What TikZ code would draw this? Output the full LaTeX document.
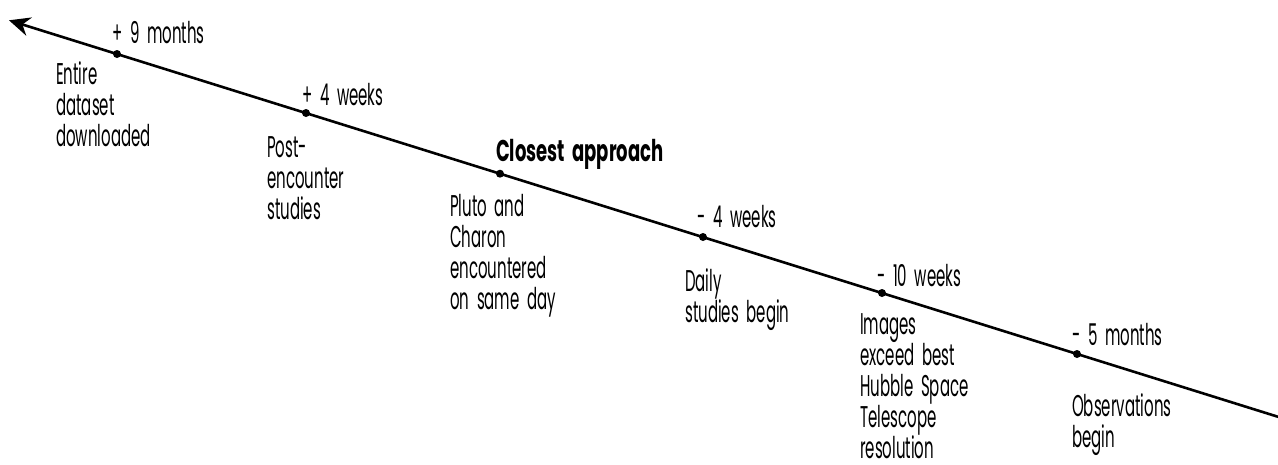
\documentclass[tikz,border=0pt]{standalone}
\usepackage{fontspec}
\setmainfont[FakeStretch=0.5, WordSpace=1.9, BoldFeatures={FakeStretch=0.6, WordSpace=1.9}]{Poppins}
\usetikzlibrary{arrows.meta}
\tikzset{
  lbl/.style={anchor=north west, inner sep=0pt, align=left, font=\fontsize{30}{31}\selectfont},
  head/.style={lbl, font=\bfseries\fontsize{30}{31}\selectfont},
  dot/.style={circle, fill=black, inner sep=0pt, minimum size=8pt},
  axis/.style={line width=2.6pt, -{Stealth[length=21pt,width=19pt,inset=7pt]}}
}
\begin{document}
\begin{tikzpicture}[x=1pt,y=-1pt]
\useasboundingbox (0,0) rectangle (1278,464);
\coordinate (tip) at (9,20.3);
\coordinate (end) at (1280,417.4);
\draw[axis] (end) -- (tip);
\node[dot] (d1) at (117,54) {};
\node[dot] (d2) at (306,113) {};
\node[dot] (d3) at (500,173.7) {};
\node[dot] (d4) at (703,237) {};
\node[dot] (d5) at (882,293) {};
\node[dot] (d6) at (1077,354) {};
% labels above
\node[lbl] (t1) at (112,21) {+ 9 months};
\node[lbl] (t2) at (302,83) {+ 4 weeks};
\node[head] (t3) at (496,139) {Closest approach};
\node[lbl] (t4) at (697,205) {- 4 weeks};
\node[lbl] (t5) at (877,264) {- 10 weeks};
\node[lbl] (t6) at (1072,323) {- 5 months};
% labels below
\node[lbl] (b1) at (56,61) {Entire\\dataset\\downloaded};
\node[lbl] (b2) at (267,136) {Post-\\encounter\\studies};
\node[lbl] (b3) at (450,194) {Pluto and\\Charon\\encountered\\on same day};
\node[lbl] (b4) at (685,268) {Daily\\studies begin};
\node[lbl] (b5) at (860,313) {Images\\exceed best\\Hubble Space\\Telescope\\resolution};
\node[lbl] (b6) at (1072,393) {Observations\\begin};
\end{tikzpicture}
\end{document}
